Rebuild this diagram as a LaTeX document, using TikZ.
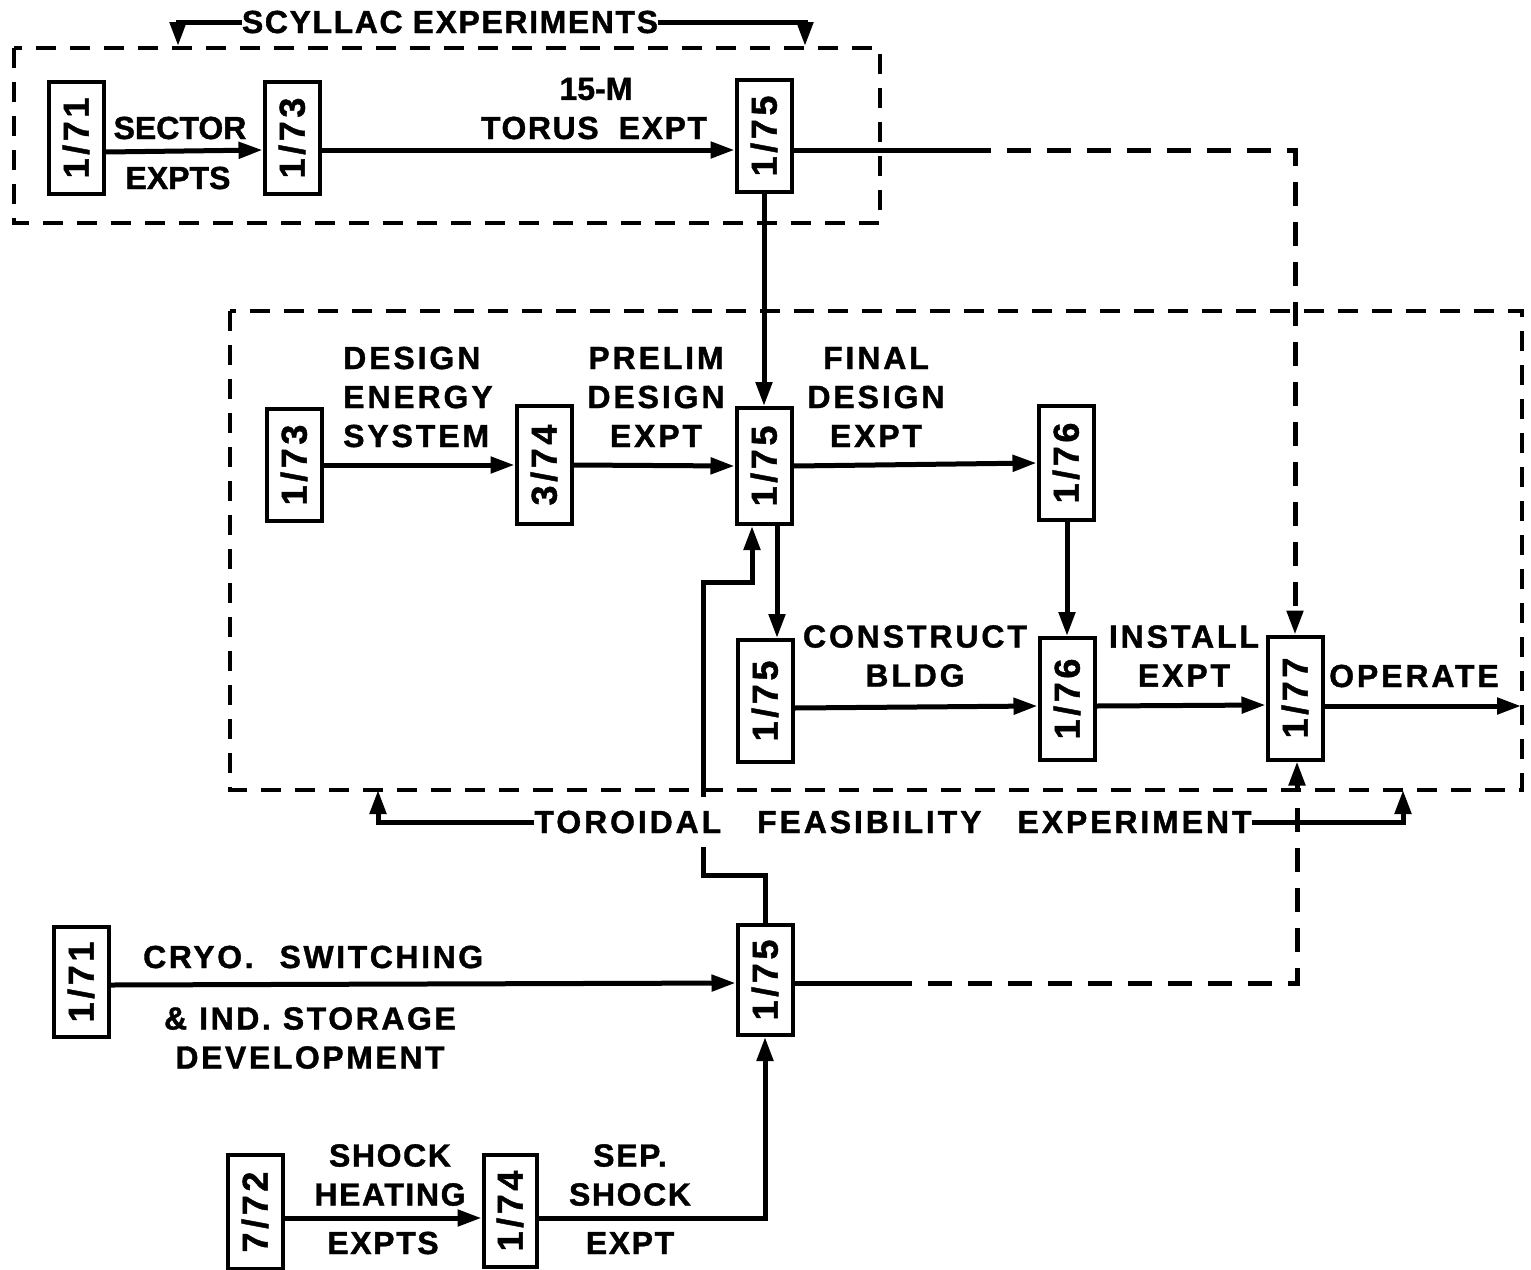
\documentclass[tikz,border=0pt]{standalone}
\usepackage{fontspec}
\setmainfont{Liberation Sans}[FakeBold=1.2]
\usetikzlibrary{arrows.meta}
\begin{document}
\begin{tikzpicture}[x=1pt,y=-1pt,
  every node/.style={inner sep=0pt, font=\fontsize{32}{39}\selectfont},
  datebox/.style={draw, line width=4pt, minimum width=55pt, minimum height=112pt,
    inner sep=0pt, font=\fontsize{36}{40}\selectfont\bfseries\addfontfeature{LetterSpace=10}},
  lbl/.style={align=center, font=\fontsize{32}{39}\selectfont\bfseries},
  spaced/.style={align=center, font=\fontsize{32}{39}\selectfont\bfseries\addfontfeature{LetterSpace=9}},
  wide/.style={align=center, font=\fontsize{32}{39}\selectfont\bfseries\addfontfeature{LetterSpace=5}},
  widecryo/.style={align=center, font=\fontsize{32}{39}\selectfont\bfseries\addfontfeature{LetterSpace=8}},
  flow/.style={line width=5pt, -{Triangle[length=24pt,width=16pt]}},
  solidline/.style={line width=5pt},
  dashline/.style={line width=5pt, dash pattern=on 24pt off 16pt},
  dashflow/.style={dashline, -{Triangle[length=24pt,width=16pt]}},
  group/.style={line width=4pt, dash pattern=on 20pt off 14pt}
]
\useasboundingbox (0,0) rectangle (1531,1269);

% group frames
\draw[group] (14,48) rectangle (880,223);
\draw[group] (230,311) rectangle (1522,790);

% date boxes
\node[datebox] (t1) at (76,138) {\rotatebox{90}{1/71}};
\node[datebox] (t2) at (292,138) {\rotatebox{90}{1/73}};
\node[datebox] (t3) at (764,136) {\rotatebox{90}{1/75}};
\node[datebox] (m1) at (294,465) {\rotatebox{90}{1/73}};
\node[datebox,minimum height=118pt] (m2) at (544,465) {\rotatebox{90}{3/74}};
\node[datebox,minimum height=116pt] (m3) at (764,466) {\rotatebox{90}{1/75}};
\node[datebox,minimum height=114pt] (m4) at (1066,463) {\rotatebox{90}{1/76}};
\node[datebox,minimum height=122pt] (l1) at (765,701) {\rotatebox{90}{1/75}};
\node[datebox,minimum height=122pt] (l2) at (1067,699) {\rotatebox{90}{1/76}};
\node[datebox,minimum height=123pt] (l3) at (1295,698) {\rotatebox{90}{1/77}};
\node[datebox,minimum height=110pt] (b0) at (81,982) {\rotatebox{90}{1/71}};
\node[datebox,minimum height=110pt] (b1) at (765,980) {\rotatebox{90}{1/75}};
\node[datebox,minimum height=114pt] (s1) at (255,1212) {\rotatebox{90}{7/72}};
\node[datebox,minimum height=112pt,minimum width=53pt] (s2) at (510,1211) {\rotatebox{90}{1/74}};

% group title (top)
\node[wide] (scy) at (450,22) {SCYLLAC\hspace{10pt}EXPERIMENTS};
\coordinate (scyL) at (178,46);
\coordinate (scyR) at (805,46);
\draw[flow] (scy.west) -| (scyL);
\draw[flow] (scy.east) -| (scyR);

% labels
\node[lbl] at (180,128) {SECTOR};
\node[lbl] at (178,178) {EXPTS};
\node[lbl] at (596,89) {15-M};
\node[wide] at (594,128) {TORUS\hspace{20pt}EXPT};
\node[spaced, align=left, anchor=west] at (343,397) {DESIGN\\ENERGY\\SYSTEM};
\node[spaced] at (656,397) {PRELIM\\DESIGN\\EXPT};
\node[spaced] at (876,397) {FINAL\\DESIGN\\EXPT};
\node[spaced] at (915,656) {CONSTRUCT\\BLDG};
\node[spaced] at (1184,656) {INSTALL\\EXPT};
\node[spaced] at (1414,676) {OPERATE};
\node[widecryo, anchor=west] at (143,957) {CRYO.\hspace{26pt}SWITCHING};
\node[widecryo] at (310,1038) {\&\hspace{12pt}IND.\hspace{12pt}STORAGE\\DEVELOPMENT};
\node[wide] at (390,1175) {SHOCK\\HEATING};
\node[wide] at (383,1243) {EXPTS};
\node[wide] at (630,1175) {SEP.\\SHOCK};
\node[wide] at (630,1243) {EXPT};

% coordinates for connectors
\coordinate (d1) at (967,150);
\coordinate (d2) at (888,983);
\coordinate (j2) at (703,875);
\coordinate (j4) at (752,582);
\coordinate (tfeC) at (893,822);
\coordinate (tfeL) at (378,790);
\coordinate (tfeR) at (1403,790);
\coordinate (opEnd) at (1521,706);

% scyllac row
\draw[flow] ([yshift=-14pt]t1.east) -- ([yshift=-12pt]t2.west);
\draw[flow] ([yshift=-12pt]t2.east) -- ([yshift=-14pt]t3.west);
\draw[solidline] ([yshift=-14pt]t3.east) -- (d1);
\draw[dashflow] (d1) -| (l3.north);
\draw[flow] (t3.south) -- (m3.north);

% toroidal feasibility row
\draw[flow] (m1.east) -- (m2.west);
\draw[flow] (m2.east) -- (m3.west);
\draw[flow] (m3.east) -- (m4.west);
\draw[flow] ([xshift=13pt]m3.south) -- ([xshift=12pt]l1.north);
\draw[flow] ([xshift=1pt]m4.south) -- (l2.north);
\draw[flow] ([yshift=-7pt]l1.east) -- ([yshift=-7pt]l2.west);
\draw[flow] ([yshift=-7pt]l2.east) -- ([yshift=-7pt]l3.west);
\draw[flow] ([yshift=-8pt]l3.east) -- (opEnd);

% feedback from lower 1/75 (masked where the title crosses it)
\draw[flow] (b1.north) |- (j2) |- (j4) -- (j4 |- m3.south);
\node[spaced, fill=white, inner ysep=14pt, inner xsep=0pt] (tfe) at (tfeC)
  {TOROIDAL\hspace{36pt}FEASIBILITY\hspace{36pt}EXPERIMENT};
\draw[flow] (tfe.west) -| (tfeL);
\draw[flow] (tfe.east) -| (tfeR);

% cryo / shock rows
\draw[flow] ([yshift=-3pt]b0.east) -- ([yshift=-3pt]b1.west);
\draw[solidline] ([yshift=-3pt]b1.east) -- (d2);
\draw[dashflow] (d2) -| ([xshift=2pt]l3.south);
\draw[flow] ([yshift=-6pt]s1.east) -- ([yshift=-7pt]s2.west);
\draw[flow] ([yshift=-7pt]s2.east) -| (b1.south);
\end{tikzpicture}
\end{document}
